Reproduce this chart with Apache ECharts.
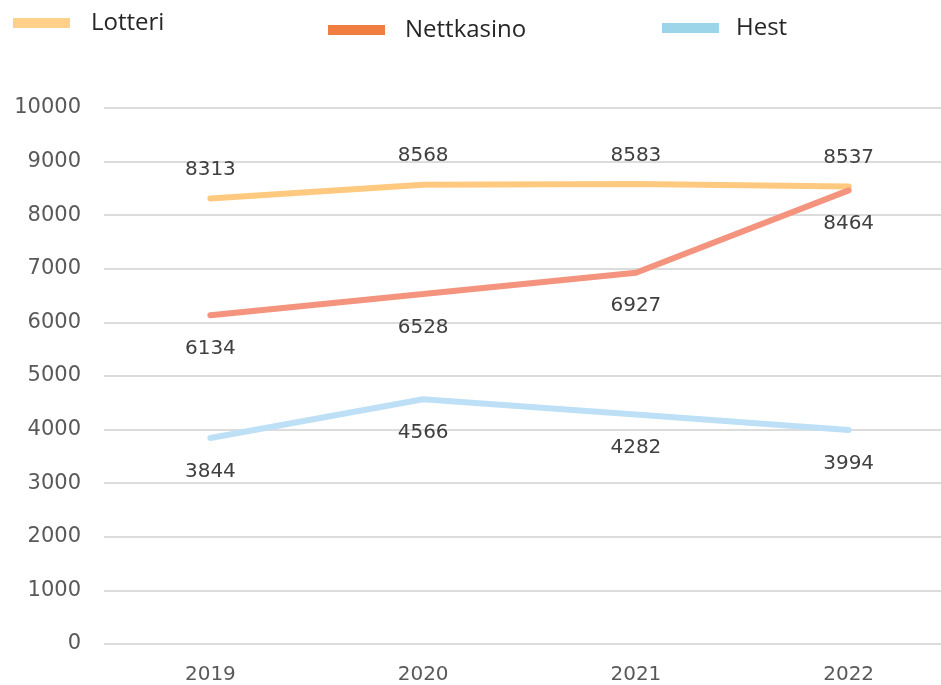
<!DOCTYPE html>
<html>
<head>
<meta charset="utf-8">
<script src="https://cdn.jsdelivr.net/npm/echarts@6/dist/echarts.min.js"></script>
<style>
	html, body { margin: 0; padding: 0; background: #fff; overflow: hidden; }
	/* plottet er litt bredere enn vinduet, høyre kant er kuttet i originalen */
	#chart { width: 955px; height: 685px; }
</style>
</head>
<body>
<div id="chart"></div>
<script>
	// år og verdier lest av figuren
	const years = ["2019", "2020", "2021", "2022"];
	const lotteri = [8313, 8568, 8583, 8537];
	const nettkasino = [6134, 6528, 6927, 8464];
	const hest = [3844, 4566, 4282, 3994];
	const yTicks = [0, 10000, 1000]; // min, max, steg

	const lineColors = ["#FFC97F", "#F4937E", "#BDE0F6"];
	const legendColors = ["#FFD08A", "#F07E40", "#9CD5EA"];

	const chart = echarts.init(document.getElementById("chart"));

	function legendFor(name, color, left, top, gap) {
		return {
			data: [{ name: name, itemStyle: { color: color } }],
			left: left,
			top: top,
			padding: 0,
			icon: "rect",
			itemWidth: 57,
			itemHeight: 10,
			textStyle: {
				fontFamily: "Open Sans",
				fontSize: 24,
				color: "#262626",
				padding: [0, 0, 0, gap]
			}
		};
	}

	function labelCfg(pos, dist) {
		return {
			show: true,
			position: pos,
			distance: dist,
			fontFamily: "DejaVu Sans",
			fontSize: 20,
			color: "#404040",
			formatter: p => String(p.value)
		};
	}

	function lineSeries(name, data, color, pos, dist) {
		return {
			name: name,
			type: "line",
			data: data,
			showSymbol: true,
			symbol: "circle",
			symbolSize: 1,
			lineStyle: { color: color, width: 6, cap: "round" },
			itemStyle: { color: color },
			label: labelCfg(pos, dist)
		};
	}

	const option = {
		animation: false,
		backgroundColor: "#ffffff",
		legend: [
			legendFor("Lotteri", legendColors[0], 13, 11, 16),
			legendFor("Nettkasino", legendColors[1], 328, 18, 15),
			legendFor("Hest", legendColors[2], 662, 16, 12)
		],
		grid: {
			left: 104,
			top: 108,
			right: 0,
			height: 537,
			containLabel: false
		},
		xAxis: {
			type: "category",
			data: years,
			boundaryGap: true,
			axisLine: { show: false },
			axisTick: { show: false },
			axisLabel: {
				margin: 21,
				fontFamily: "DejaVu Sans",
				fontSize: 20,
				color: "#595959"
			}
		},
		yAxis: {
			type: "value",
			min: yTicks[0],
			max: yTicks[1],
			interval: yTicks[2],
			axisLine: { show: false },
			axisTick: { show: false },
			axisLabel: {
				margin: 23,
				fontFamily: "DejaVu Sans",
				fontSize: 21,
				color: "#595959",
				formatter: v => String(v)
			},
			splitLine: {
				lineStyle: { color: "#dcdcdc", width: 2 }
			}
		},
		series: [
			lineSeries("Lotteri", lotteri, lineColors[0], "top", 18),
			lineSeries("Nettkasino", nettkasino, lineColors[1], "bottom", 23),
			lineSeries("Hest", hest, lineColors[2], "bottom", 23)
		]
	};

	chart.setOption(option);
</script>
</body>
</html>
